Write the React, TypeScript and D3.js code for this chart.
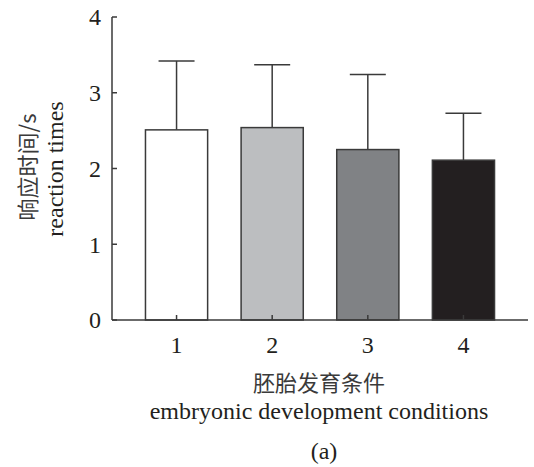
import React, { useEffect, useRef } from 'react';
import * as d3 from 'd3';

const categories = ['1', '2', '3', '4'];
const means = [2.51, 2.54, 2.25, 2.11];
const errors = [0.91, 0.83, 0.99, 0.62];
const barColors = ['#ffffff', '#bcbec0', '#808285', '#231f20'];
const yTicks = [0, 1, 2, 3, 4];

const FONT = '"Liberation Serif", "Times New Roman", serif';
const CJK = '"Noto Sans CJK SC", sans-serif';

const App = () => {
  const svgRef = useRef<SVGSVGElement>(null);

  useEffect(() => {
    const svg = d3.select(svgRef.current);
    svg.selectAll('*').remove();

    const W = 534;
    const H = 467;
    svg.attr('width', W).attr('height', H);

    const x0 = 112;
    const x1 = 528;
    const yTop = 17;
    const yBot = 320;

    const x = d3.scaleBand().domain(categories).range([x0, x1]).padding(0.35);
    const y = d3.scaleLinear().domain([0, 4]).range([yBot, yTop]);

    const ink = '#231f20';
    const line = '#3a3a3a';

    const data = categories.map((c, i) => ({ c, v: means[i], e: errors[i], col: barColors[i] }));

    // error bars (upper half only)
    const capW = 36;
    data.forEach((d) => {
      const cx = x(d.c)! + x.bandwidth() / 2;
      svg.append('line')
        .attr('x1', cx).attr('x2', cx)
        .attr('y1', y(d.v)).attr('y2', y(d.v + d.e))
        .attr('stroke', line).attr('stroke-width', 1.5);
      svg.append('line')
        .attr('x1', cx - capW / 2).attr('x2', cx + capW / 2)
        .attr('y1', y(d.v + d.e)).attr('y2', y(d.v + d.e))
        .attr('stroke', line).attr('stroke-width', 1.5);
    });

    svg.selectAll('.bar')
      .data(data)
      .enter()
      .append('rect')
      .attr('class', 'bar')
      .attr('x', (d) => x(d.c)!)
      .attr('y', (d) => y(d.v))
      .attr('width', x.bandwidth())
      .attr('height', (d) => yBot - y(d.v))
      .attr('fill', (d) => d.col)
      .attr('stroke', line)
      .attr('stroke-width', 1.5);

    // axes
    svg.append('line')
      .attr('x1', x0).attr('x2', x0).attr('y1', yTop).attr('y2', yBot)
      .attr('stroke', line).attr('stroke-width', 1.5);
    svg.append('line')
      .attr('x1', x0).attr('x2', x1).attr('y1', yBot).attr('y2', yBot)
      .attr('stroke', line).attr('stroke-width', 1.5);

    yTicks.forEach((t) => {
      svg.append('line')
        .attr('x1', x0).attr('x2', x0 + 5).attr('y1', y(t)).attr('y2', y(t))
        .attr('stroke', line).attr('stroke-width', 1.5);
      svg.append('text')
        .attr('x', x0 - 11).attr('y', y(t)).attr('dy', '0.35em')
        .attr('text-anchor', 'end')
        .attr('font-family', FONT).attr('font-size', 24).attr('fill', ink)
        .text(t);
    });

    categories.forEach((c) => {
      const cx = x(c)! + x.bandwidth() / 2;
      svg.append('line')
        .attr('x1', cx).attr('x2', cx).attr('y1', yBot).attr('y2', yBot - 5)
        .attr('stroke', line).attr('stroke-width', 1.5);
      svg.append('text')
        .attr('x', cx).attr('y', 353)
        .attr('text-anchor', 'middle')
        .attr('font-family', FONT).attr('font-size', 24).attr('fill', ink)
        .text(c);
    });

    // y title
    svg.append('text')
      .attr('transform', 'translate(36,167) rotate(-90)')
      .attr('text-anchor', 'middle')
      .attr('font-family', CJK).attr('font-size', 22).attr('fill', '#3a3a3a')
      .text('响应时间/s');
    svg.append('text')
      .attr('transform', 'translate(63,169) rotate(-90)')
      .attr('text-anchor', 'middle')
      .attr('font-family', FONT).attr('font-size', 24).attr('fill', ink)
      .text('reaction times');

    // x title
    const midX = (x0 + x1) / 2;
    svg.append('text')
      .attr('x', midX - 1).attr('y', 391)
      .attr('text-anchor', 'middle')
      .attr('font-family', CJK).attr('font-size', 22).attr('fill', '#3a3a3a')
      .text('胚胎发育条件');
    svg.append('text')
      .attr('x', midX - 1).attr('y', 419)
      .attr('text-anchor', 'middle')
      .attr('font-family', FONT).attr('font-size', 24).attr('fill', ink)
      .text('embryonic development conditions');
    svg.append('text')
      .attr('x', midX + 4).attr('y', 459)
      .attr('text-anchor', 'middle')
      .attr('font-family', FONT).attr('font-size', 24).attr('fill', ink)
      .text('(a)');
  }, []);

  return (
    <div style={{ position: 'absolute', left: 0, top: 0 }}>
      <svg ref={svgRef}></svg>
    </div>
  );
};

export default App;
